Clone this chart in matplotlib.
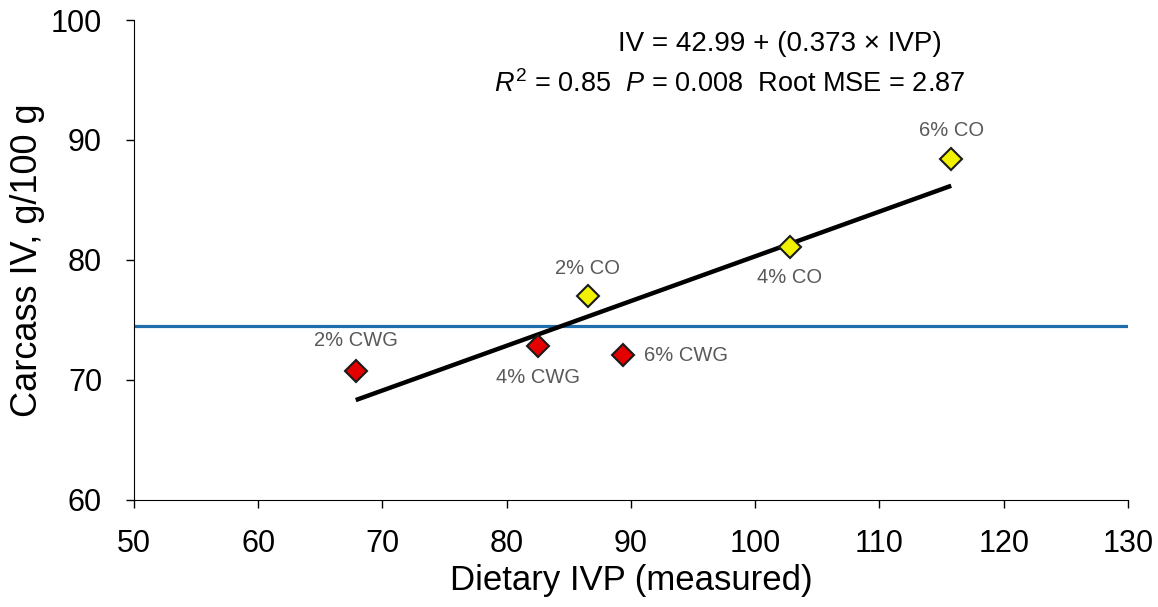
import matplotlib
matplotlib.use('Agg')
import matplotlib.pyplot as plt
import numpy as np

plt.rcParams['font.family'] = ['Liberation Sans', 'DejaVu Sans']
plt.rcParams['mathtext.fontset'] = 'custom'
plt.rcParams['mathtext.rm'] = 'Liberation Sans'
plt.rcParams['mathtext.it'] = 'Liberation Sans:italic'

# data
labels = ['2% CWG', '4% CWG', '6% CWG', '2% CO', '4% CO', '6% CO']
ivp = [67.85, 82.53, 89.39, 86.51, 102.77, 115.78]
iv = [70.74, 72.83, 72.03, 76.97, 81.08, 88.37]
colors = ['#E50000', '#E50000', '#E50000', '#F2F200', '#F2F200', '#F2F200']
intercept = 42.99
slope = 0.373
ref_iv = 74.47

# label offsets (pixels) around each marker
offsets = [(0, 30), (0, -32), (21, 0), (0, 28), (0, -31), (0, 29)]

fig = plt.figure(figsize=(11.58, 6.07), dpi=100)
ax = fig.add_axes([0.1157, 0.177, 0.8583, 0.790])

# horizontal reference line
ax.axhline(ref_iv, color='#1F6EAB', lw=2.3, zorder=1)

# regression line
xr = np.array([min(ivp), max(ivp)])
ax.plot(xr, intercept + slope * xr, color='black', lw=3.2, solid_capstyle='butt', zorder=2)

# points
for x, y, c in zip(ivp, iv, colors):
    ax.plot(x, y, marker='D', ms=11, mfc=c, mec='#1a1a1a', mew=1.5, ls='none', zorder=3)

for x, y, lab, off in zip(ivp, iv, labels, offsets):
    ha = 'left' if off[0] > 0 else 'center'
    ax.annotate(lab, (x, y), xytext=off, textcoords='offset pixels',
                ha=ha, va='center', fontsize=14.5, color='#595959')

ax.text(0.65, 0.950, 'IV = 42.99 + (0.373 × IVP)', transform=ax.transAxes,
        ha='center', va='center', fontsize=20)
ax.text(0.599, 0.866, r'$R^2$ = 0.85  $P$ = 0.008  Root MSE = 2.87', transform=ax.transAxes,
        ha='center', va='center', fontsize=19.5)

ax.set_xlim(50, 130)
ax.set_ylim(60, 100)
ax.set_xticks(range(50, 131, 10))
ax.set_yticks(range(60, 101, 10))
ax.tick_params(labelsize=22, direction='out', length=6, width=1)
ax.tick_params(axis='x', pad=15)
ax.tick_params(axis='y', pad=17)
ax.spines['top'].set_visible(False)
ax.spines['right'].set_visible(False)
ax.set_xlabel('Dietary IVP (measured)', fontsize=25, labelpad=4)
ax.set_ylabel('Carcass IV, g/100 g', fontsize=26, labelpad=4)

fig.savefig('out.png', dpi=100)
